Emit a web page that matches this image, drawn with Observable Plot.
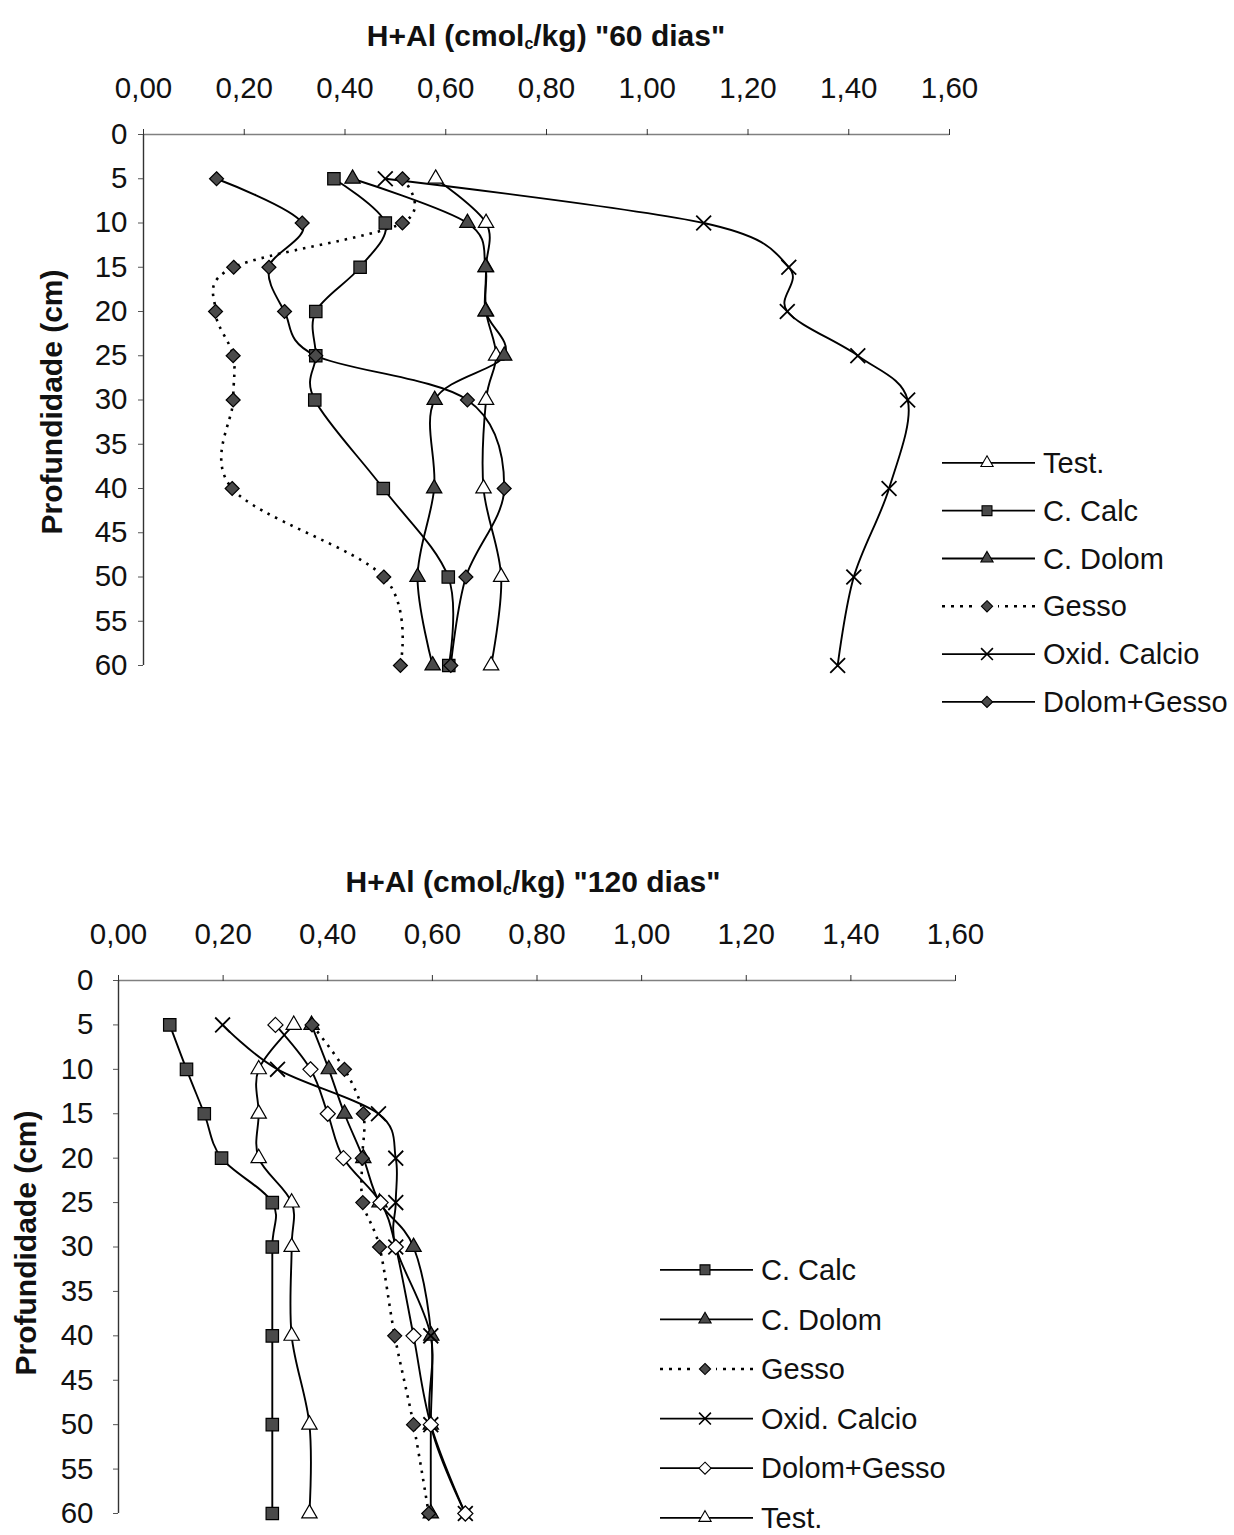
<!DOCTYPE html>
<html><head><meta charset="utf-8">
<script src="https://cdn.jsdelivr.net/npm/d3@7"></script>
<script src="https://cdn.jsdelivr.net/npm/@observablehq/plot@0.6"></script>
<style>
body{margin:0;background:#fff;font-family:"Liberation Sans",Arial,sans-serif;color:#111;}
#page{position:relative;width:1234px;height:1535px;overflow:hidden;background:#fff;}
.abs{position:absolute;}
.title{font-weight:bold;font-size:30px;white-space:nowrap;transform:translate(-50%,-50%);line-height:1;}
.title sub{font-size:16px;vertical-align:-3px;}
.ylab{font-weight:bold;font-size:30px;white-space:nowrap;transform:translate(-50%,-50%) rotate(-90deg);line-height:1;}
</style></head><body><div id="page"></div>
<script>
// ---------- data ----------
const depths = [5, 10, 15, 20, 25, 30, 40, 50, 60];
const xTicks = [0, 0.2, 0.4, 0.6, 0.8, 1.0, 1.2, 1.4, 1.6];
const yTicks = [0, 5, 10, 15, 20, 25, 30, 35, 40, 45, 50, 55, 60];

// 60 dias
const test60  = [0.58, 0.68, 0.68, 0.68, 0.70, 0.68, 0.675, 0.71, 0.69];
const calc60  = [0.378, 0.48, 0.43, 0.342, 0.342, 0.34, 0.476, 0.605, 0.606];
const dolom60 = [0.415, 0.643, 0.679, 0.679, 0.716, 0.578, 0.577, 0.544, 0.574];
const gesso60 = [0.514, 0.514, 0.179, 0.143, 0.178, 0.178, 0.176, 0.477, 0.51];
const oxid60  = [0.48, 1.112, 1.281, 1.278, 1.418, 1.517, 1.48, 1.41, 1.378];
const dg60    = [0.145, 0.315, 0.249, 0.28, 0.342, 0.643, 0.716, 0.64, 0.61];

// 120 dias
const calc120  = [0.098, 0.130, 0.164, 0.197, 0.294, 0.294, 0.294, 0.294, 0.294];
const dolom120 = [0.369, 0.402, 0.432, 0.468, 0.499, 0.564, 0.598, 0.597, 0.597];
const gesso120 = [0.37, 0.432, 0.468, 0.466, 0.467, 0.499, 0.528, 0.564, 0.593];
const oxid120  = [0.199, 0.304, 0.497, 0.530, 0.530, 0.530, 0.597, 0.597, 0.663];
const dg120    = [0.300, 0.367, 0.400, 0.430, 0.501, 0.530, 0.564, 0.597, 0.663];
const test120  = [0.335, 0.268, 0.268, 0.268, 0.331, 0.331, 0.331, 0.365, 0.365];

const legend60  = ["Test.", "C. Calc", "C. Dolom", "Gesso", "Oxid. Calcio", "Dolom+Gesso"];
const legend120 = ["C. Calc", "C. Dolom", "Gesso", "Oxid. Calcio", "Dolom+Gesso", "Test."];

// ---------- styles ----------
const DARK = "#4a4a4a";
const styles60 = {
  "Test.":        {symbol: "triangle", fill: "white", r: 5.7},
  "C. Calc":      {symbol: "square",   fill: DARK,    r: 7.0},
  "C. Dolom":     {symbol: "triangle", fill: DARK,    r: 5.7},
  "Gesso":        {symbol: "diamond2", fill: DARK,    r: 6.3, dash: "2.5,6"},
  "Oxid. Calcio": {symbol: "times",    fill: "none",  r: 6.8},
  "Dolom+Gesso":  {symbol: "diamond2", fill: DARK,    r: 6.3}
};
const styles120 = Object.assign({}, styles60, {
  "Dolom+Gesso":  {symbol: "diamond2", fill: "white", r: 6.8}
});

function toRows(map) {
  const rows = [];
  for (const [name, vals] of Object.entries(map))
    vals.forEach((v, i) => rows.push({serie: name, depth: depths[i], value: v}));
  return rows;
}
const rows60 = toRows({"Test.": test60, "C. Calc": calc60, "C. Dolom": dolom60,
  "Gesso": gesso60, "Oxid. Calcio": oxid60, "Dolom+Gesso": dg60});
const rows120 = toRows({"C. Calc": calc120, "C. Dolom": dolom120, "Gesso": gesso120,
  "Oxid. Calcio": oxid120, "Dolom+Gesso": dg120, "Test.": test120});

const fmt = d => d.toFixed(2).replace(".", ",");
const FONT = '"Liberation Sans", Arial, sans-serif';
const page = document.getElementById("page");

function chart(rows, styles, names, o) {
  const marks = [
    Plot.ruleY([0], {stroke: "#808080", strokeWidth: 1.6}),
    Plot.ruleX([0], {stroke: "#333", strokeWidth: 1.4}),
    Plot.axisX(xTicks, {anchor: "top", tickFormat: fmt, tickSize: 6, tickPadding: 31, label: null, stroke: "#333", fill: "#111"}),
    Plot.axisY(yTicks, {anchor: "left", tickSize: 5, tickPadding: o.yPad, label: null, stroke: "#555", fill: "#111"})
  ];
  for (const name of names) {
    const s = styles[name];
    const data = rows.filter(d => d.serie === name);
    marks.push(Plot.line(data, {x: "value", y: "depth", curve: "cardinal", tension: 0,
      stroke: "black", strokeWidth: s.dash ? 2.6 : 1.9, strokeDasharray: s.dash,
      strokeLinecap: s.dash ? "butt" : "round"}));
  }
  for (const name of names) {
    const s = styles[name];
    const data = rows.filter(d => d.serie === name);
    marks.push(Plot.dot(data, {x: "value", y: "depth", symbol: () => s.symbol, r: s.r,
      fill: s.fill, stroke: "black", strokeWidth: s.symbol === "times" ? 1.8 : 1.2}));
  }
  const svg = Plot.plot({
    width: o.width, height: o.height,
    marginTop: o.marginTop, marginLeft: o.marginLeft, marginRight: o.marginRight, marginBottom: o.marginBottom,
    x: {domain: [0, 1.6]},
    y: {domain: [0, 60], reverse: true},
    symbol: {type: "identity"},
    style: {fontSize: "29.5px", fontFamily: FONT, color: "#111", background: "transparent", overflow: "visible"},
    marks
  });
  svg.classList.add("abs");
  svg.style.left = "0px";
  svg.style.top = o.top + "px";
  page.appendChild(svg);
}

function legend(names, styles, o) {
  const h = o.step * names.length;
  const svg = d3.create("svg").attr("width", 300).attr("height", h)
    .attr("class", "abs").style("left", o.left + "px").style("top", (o.top - o.step / 2) + "px")
    .style("font-family", FONT);
  names.forEach((name, i) => {
    const s = styles[name];
    const g = svg.append("g").attr("transform", `translate(0,${o.step / 2 + i * o.step})`);
    g.append("line").attr("x1", 2).attr("x2", 95).attr("y1", 0).attr("y2", 0)
      .attr("stroke", "black").attr("stroke-width", s.dash ? 2.6 : 1.8)
      .attr("stroke-dasharray", s.dash ? "3,6" : null);
    const symMap = {triangle: d3.symbolTriangle, square: d3.symbolSquare, diamond2: d3.symbolDiamond2, times: d3.symbolTimes};
    const rr = s.r * 0.8;
    if (s.dash) g.append("rect").attr("x", 36).attr("y", -3).attr("width", 22).attr("height", 6).attr("fill", "white");
    g.append("path").attr("transform", "translate(47,0)")
      .attr("d", d3.symbol(symMap[s.symbol], Math.PI * rr * rr)())
      .attr("fill", s.fill).attr("stroke", "black").attr("stroke-width", s.symbol === "times" ? 1.6 : 1.1);
    g.append("text").attr("x", 103).attr("y", 0).attr("dy", "0.35em")
      .attr("font-size", 29).attr("fill", "#111").text(name);
  });
  page.appendChild(svg.node());
}

function addDiv(cls, html, x, y) {
  const d = document.createElement("div");
  d.className = "abs " + cls;
  d.innerHTML = html;
  d.style.left = x + "px";
  d.style.top = y + "px";
  page.appendChild(d);
}

// top chart (60 dias)
chart(rows60, styles60, legend60, {top: 60, width: 975, height: 630, marginTop: 74, marginLeft: 143, marginRight: 26, marginBottom: 25, yPad: 11});
addDiv("title", 'H+Al (cmol<sub>c</sub>/kg) "60 dias"', 546, 36);
addDiv("ylab", "Profundidade (cm)", 52, 402);
legend(legend60, styles60, {left: 940, top: 463, step: 47.8});

// bottom chart (120 dias)
chart(rows120, styles120, legend120, {top: 905, width: 975, height: 628, marginTop: 75, marginLeft: 118, marginRight: 20, marginBottom: 20, yPad: 20});
addDiv("title", 'H+Al (cmol<sub>c</sub>/kg) "120 dias"', 533, 882);
addDiv("ylab", "Profundidade (cm)", 26, 1243);
legend(legend120, styles120, {left: 658, top: 1270, step: 49.6});
</script></body></html>
